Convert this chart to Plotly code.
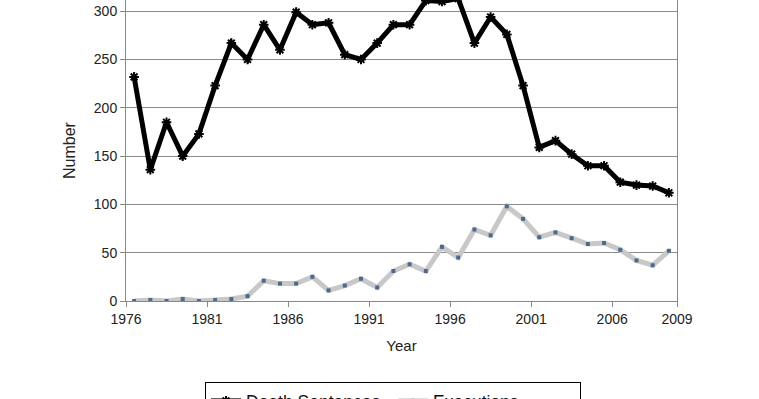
import plotly.graph_objects as go

years = list(range(1976, 2010))
death_sentences = [232, 136, 185, 150, 173, 223, 267, 250, 286, 260,
                   299, 286, 288, 255, 250, 267, 286, 286, 311, 310,
                   313, 267, 294, 276, 223, 159, 166, 152, 140, 140,
                   123, 120, 119, 112]
executions = [0, 1, 0, 2, 0, 1, 2, 5, 21, 18,
              18, 25, 11, 16, 23, 14, 31, 38, 31, 56,
              45, 74, 68, 98, 85, 66, 71, 65, 59, 60,
              53, 42, 37, 52]
tick_labels = ["1976", "1981", "1986", "1991", "1996", "2001", "2006", "2009"]
tick_pos = [1975.5, 1980.5, 1985.5, 1990.5, 1995.5, 2000.5, 2005.5, 2009.5]

FONT = "Liberation Sans, Arial, sans-serif"

fig = go.Figure()
fig.add_trace(go.Scatter(
    x=years, y=death_sentences, name="Death Sentences", mode="lines+markers",
    line=dict(color="black", width=5),
    marker=dict(symbol="asterisk", size=8, color="black", line=dict(color="black", width=2)),
))
fig.add_trace(go.Scatter(
    x=years, y=executions, name="Executions", mode="lines+markers",
    line=dict(color="#c8c8c8", width=5),
    marker=dict(symbol="square", size=4, color="#4a6a92"),
))

fig.update_layout(
    width=759, height=399,
    margin=dict(l=126, r=82, t=0, b=98, autoexpand=False),
    paper_bgcolor="white", plot_bgcolor="white",
    font=dict(family=FONT, size=14, color="#222"),
    showlegend=True,
    legend=dict(
        orientation="h", xref="container", yref="container",
        x=205 / 759, y=(399 - 382) / 399,
        xanchor="left", yanchor="top",
        bordercolor="black", borderwidth=1,
        font=dict(size=17.5, color="#111"),
        entrywidth=142, itemwidth=30,
    ),
)
fig.update_xaxes(
    range=[1975.5, 2009.5], tickvals=tick_pos, ticktext=tick_labels,
    showline=True, linecolor="#888", linewidth=1, mirror=False,
    ticks="outside", ticklen=5, tickcolor="#888",
    showgrid=False, zeroline=False, automargin=False,
    title=dict(text="Year", standoff=14, font=dict(size=15)),
)
fig.update_yaxes(
    range=[0, 311.6], tickvals=[0, 50, 100, 150, 200, 250, 300],
    showline=True, linecolor="#888", linewidth=1, mirror=True,
    ticks="outside", ticklen=5, tickcolor="#888",
    showgrid=True, gridcolor="#8c8c8c", gridwidth=1, zeroline=False, automargin=False,
    title=dict(text="Number", standoff=14, font=dict(size=16)),
)

fig.write_html("out.html", config={"displayModeBar": False},
               post_script="document.body.style.margin='0';document.body.style.overflow='hidden';")
